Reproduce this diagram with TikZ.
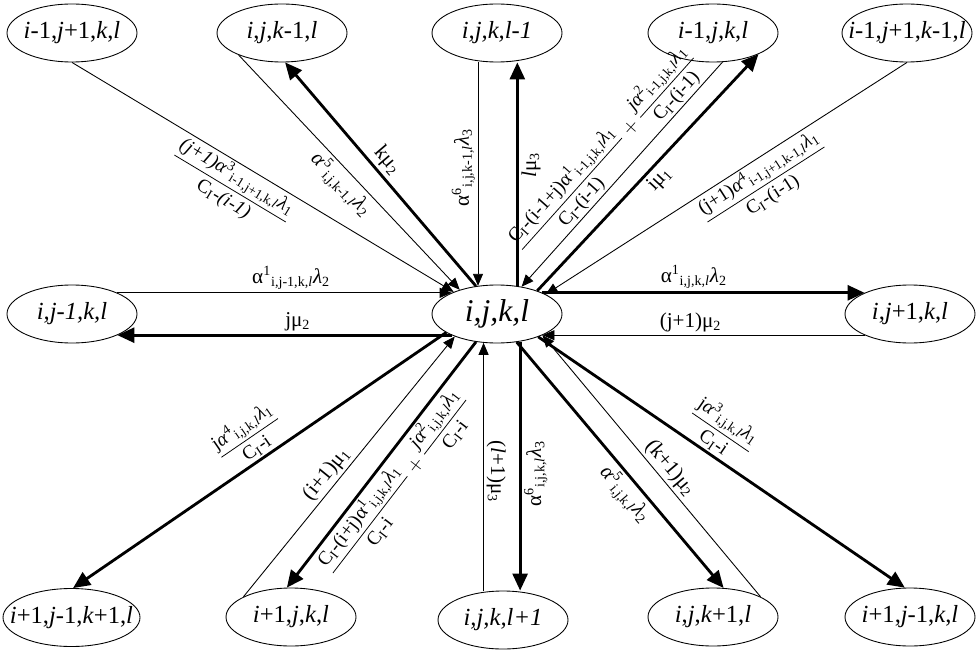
\documentclass[tikz,border=0pt]{standalone}
\usepackage{amsmath}
\usepackage{fontspec}
\setmainfont{Liberation Serif}
\usepackage{tikz}
\usetikzlibrary{arrows.meta,shapes.geometric}

\begin{document}
\begin{tikzpicture}[
  state/.style={draw, ellipse, line width=0.5pt, minimum width=2.6cm, minimum height=1.16cm, inner xsep=-0.3cm, inner ysep=0pt, font=\fontsize{14}{16}\selectfont},
  inarr/.style={line width=0.5pt, -{Triangle[length=0.24cm, width=0.2cm]}},
  outarr/.style={line width=1.6pt, -{Triangle[length=0.34cm, width=0.3cm]}},
  lbl/.style={font=\fontsize{12}{14}\selectfont, inner sep=1.5pt},
  frc/.style={font=\fontsize{11}{13}\selectfont, inner sep=1pt}
]
\useasboundingbox (0,0) rectangle (19.52,12.98);
\node[state, font=\fontsize{18}{20}\selectfont] (c) at (9.94,6.70) {\textit{i,j,k,l}};
\node[state] (a1) at (1.44,12.32) {\textit{i}-1,\textit{j}+1,\textit{k},\textit{l}};
\node[state] (a2) at (5.64,12.32) {\textit{i},\textit{j},\textit{k}-1,\textit{l}};
\node[state] (a3) at (9.94,12.32) {\textit{i,j,k,l-1}};
\node[state] (a4) at (14.26,12.32) {\textit{i}-1,\textit{j},\textit{k},\textit{l}};
\node[state] (a5) at (18.14,12.32) {\textit{i}-1,\textit{j}+1,\textit{k}-1,\textit{l}};
\node[state] (l) at (1.44,6.70) {\textit{i,j-1,k,l}};
\node[state] (r) at (18.20,6.70) {\textit{i},\textit{j}+1,\textit{k},\textit{l}};
\node[state, minimum width=2.74cm] (b1) at (1.43,0.63) {\textit{i}+1,\textit{j}-1,\textit{k}+1,\textit{l}};
\node[state] (b2) at (5.82,0.64) {\textit{i}+1,\textit{j},\textit{k},\textit{l}};
\node[state] (b3) at (10.06,0.58) {\textit{i,j,k,l+1}};
\node[state] (b4) at (14.26,0.64) {\textit{i},\textit{j},\textit{k}+1,\textit{l}};
\node[state] (b5) at (18.20,0.64) {\textit{i}+1,\textit{j}-1,\textit{k},\textit{l}};

\draw[inarr] (a1.south) -- (c.153) node[frc, sloped, below, pos=.45] {$\dfrac{\text{\textit{(j+1)α}\textsuperscript{3}\textsubscript{i-1,j+1,k,\textit{l}}\textit{λ}\textsubscript{1}}}{\text{C\textsubscript{I}-\textit{(i-1)}}}$};
\draw[inarr] (a2.-153) -- (c.147) node[lbl, sloped, below, pos=.51] {\textit{α}\textsuperscript{5}\textsubscript{i,j,k-1,\textit{l}}\textit{λ}\textsubscript{2}};
\draw[outarr] (c.127) -- (a2.-84) node[lbl, sloped, above, pos=.52] {kμ\textsubscript{2}};
\draw[inarr] (c.124 |- a3.south) -- (c.124) node[lbl, rotate=90, above, pos=.47] {α\textsuperscript{6}\textsubscript{i,j,k-1,\textit{l}}\textit{λ}\textsubscript{3}};
\draw[outarr] (c.54) -- (c.54 |- a3.south) node[lbl, rotate=90, below, pos=.54] {\textit{l}μ\textsubscript{3}};
\draw[inarr] (a4.-72) -- (c.48) node[frc, sloped, above, pos=.48] {$\dfrac{\text{C\textsubscript{I}-(i-1+j)α\textsuperscript{1}\textsubscript{i-1,j,k,\textit{l}}\textit{λ}\textsubscript{1}}}{\text{C\textsubscript{I}-(i-1)}}+\dfrac{\text{\textit{jα}\textsuperscript{2}\textsubscript{i-1,j,k,\textit{l}}\textit{λ}\textsubscript{1}}}{\text{C\textsubscript{I}-(i-1)}}$};
\draw[outarr] (c.30) -- (a4.-25) node[lbl, sloped, below, pos=.51] {iμ\textsubscript{1}};
\draw[inarr] (a5.south) -- (c.22) node[frc, sloped, below, pos=.43] {$\dfrac{\text{(j+1)\textit{α}\textsuperscript{4}\textsubscript{i-1,j+1,k-1,\textit{l}}\textit{λ}\textsubscript{1}}}{\text{C\textsubscript{I}-(i-1)}}$};

\draw[inarr] (l.25) -- (c.155) node[lbl, above, pos=.52] {α\textsuperscript{1}\textsubscript{i,j-1,k,\textit{l}}\textit{λ}\textsubscript{2}};
\draw[outarr] (c.205) -- (l.-25) node[lbl, above, pos=.46] {jμ\textsubscript{2}};
\draw[outarr] (c.25) -- (r.155) node[lbl, above, pos=.47] {α\textsuperscript{1}\textsubscript{i,j,k,\textit{l}}\textit{λ}\textsubscript{2}};
\draw[inarr] (r.205) -- (c.-25) node[lbl, above, pos=.54] {(j+1)μ\textsubscript{2}};

\draw[outarr] (c.-160) -- (b1.87) node[frc, sloped, above, pos=.49] {$\dfrac{\text{j\textit{α}\textsuperscript{4}\textsubscript{i,j,k,\textit{l}}\textit{λ}\textsubscript{1}}}{\text{C\textsubscript{I}-i}}$};
\draw[inarr] (b2.157) -- (c.-152) node[lbl, sloped, above, pos=.44] {(i+1)μ\textsubscript{1}};
\draw[outarr] (c.-127) -- (b2.98) node[frc, sloped, below, pos=.52] {$\dfrac{\text{C\textsubscript{I}-(i+j)α\textsuperscript{1}\textsubscript{i,j,k,\textit{l}}\textit{λ}\textsubscript{1}}}{\text{C\textsubscript{I}-i}}+\dfrac{\text{\textit{jα}\textsuperscript{2}\textsubscript{i,j,k,\textit{l}}\textit{λ}\textsubscript{1}}}{\text{C\textsubscript{I}-i}}$};
\draw[inarr] (c.-115 |- b3.north) -- (c.-115) node[lbl, rotate=-90, above, pos=.48] {(\textit{l}+1)μ\textsubscript{3}};
\draw[outarr] (c.-50) -- (c.-50 |- b3.north) node[lbl, rotate=90, below, pos=.53] {α\textsuperscript{6}\textsubscript{i,j,k,\textit{l}}\textit{λ}\textsubscript{3}};
\draw[outarr] (c.-55) -- (b4.70) node[lbl, sloped, below, pos=.58] {\textit{α}\textsuperscript{5}\textsubscript{i,j,k,\textit{l}}\textit{λ}\textsubscript{2}};
\draw[inarr] (b4.23) -- (c.-25) node[lbl, sloped, above, pos=.46] {(k+1)μ\textsubscript{2}};
\draw[outarr] (c.-29) -- (b5.100) node[frc, sloped, above, pos=.46] {$\dfrac{\text{j\textit{α}\textsuperscript{3}\textsubscript{i,j,k,\textit{l}}\textit{λ}\textsubscript{1}}}{\text{C\textsubscript{I}-i}}$};
\end{tikzpicture}
\end{document}
